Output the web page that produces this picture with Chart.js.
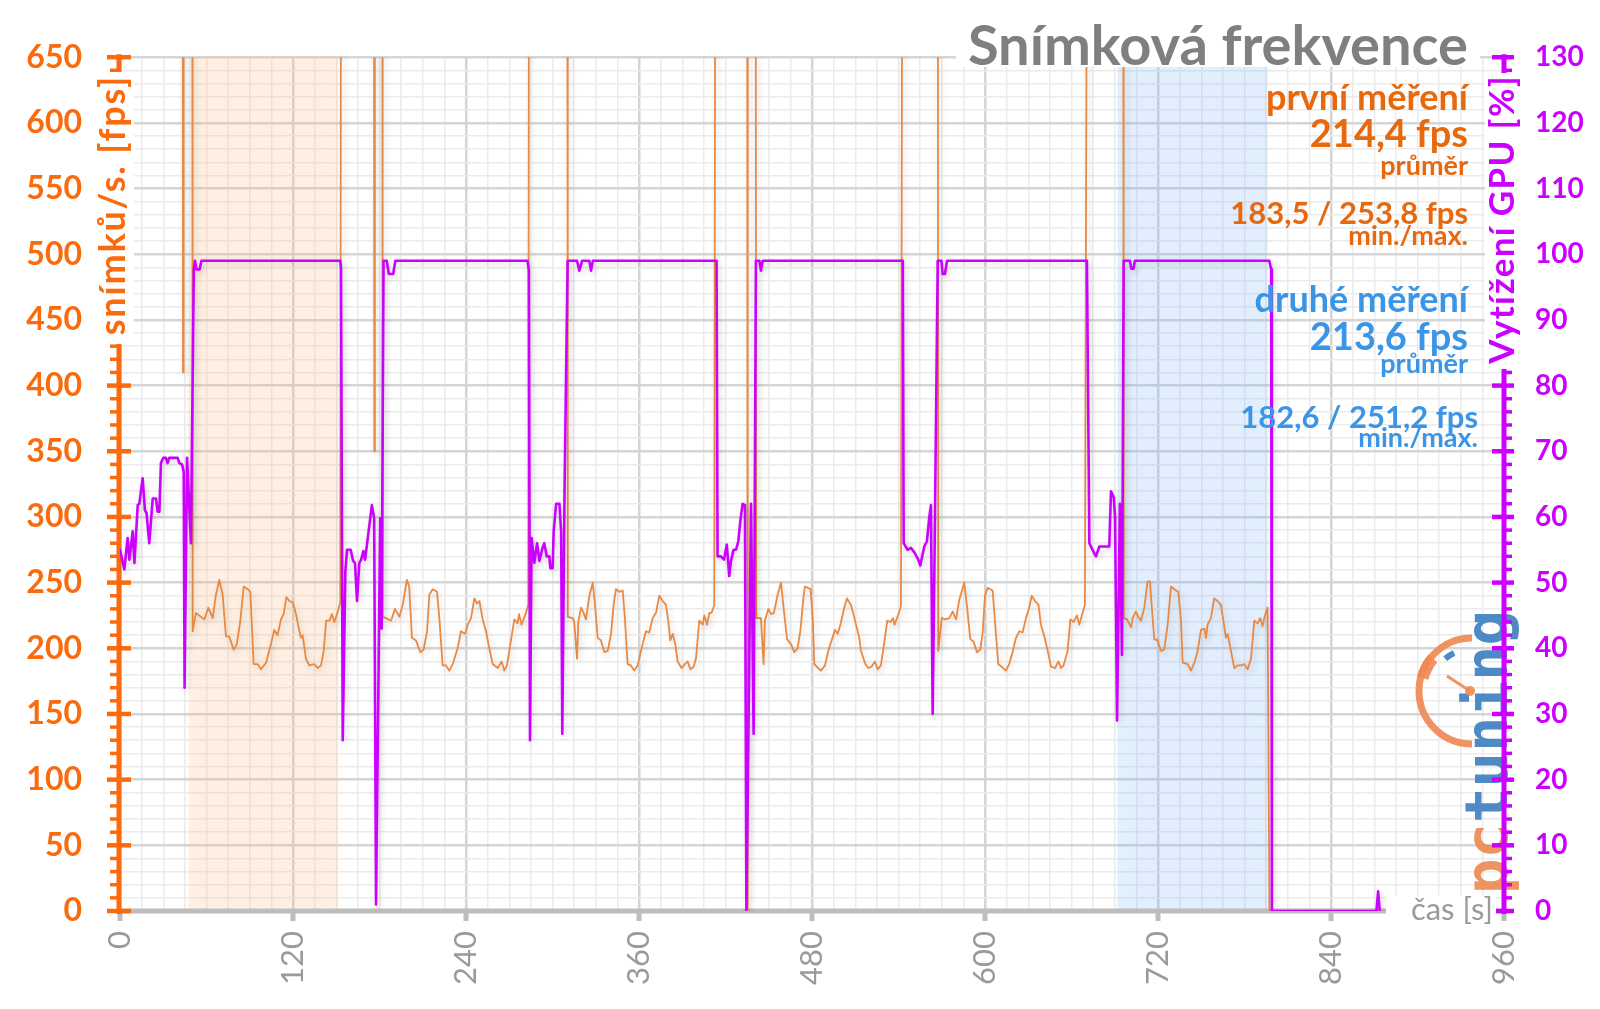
<!DOCTYPE html>
<html><head><meta charset="utf-8">
<script src="https://cdn.jsdelivr.net/npm/chart.js@4.4.1/dist/chart.umd.min.js"></script>
<style>html,body{margin:0;padding:0;background:#fff;overflow:hidden}#wrap{width:1600px;height:1009px}</style>
</head><body><div id="wrap"><canvas id="c" width="1600" height="1009"></canvas></div>
<script>
// ---------- DATA ----------
const timeTickStep = 120;            // labelled x ticks every 120 s
const fpsTickStep = 50;              // labelled left ticks
const gpuTickStep = 10;              // labelled right ticks
const timeRange = [0, 960];
const fpsRange = [0, 650];
const gpuRange = [0, 130];
// values above the visible range (menus / loading) are plotted as 999 and clipped
const fpsTime = [0,43.3,43.7,44.1,50.1,50.4,52.7,56,58.5,61.3,64.3,66.6,68.9,71.2,73.5,75.8,78.8,81,83.5,85.8,88.6,90.4,92.7,95.5,97.8,101.3,104.7,107,109.3,111.7,113.5,115.4,117.5,119.8,122.1,124.4,125.6,126.7,129,131.3,134.8,137.1,139.4,141.3,143,145.3,146.9,148.7,151.1,152.8,153.5,
176,176.4,176.8,181.8,182.2,184.5,188,190.7,193.8,196.1,199,200.6,202.5,205.3,208.3,210.6,213,214.6,216.9,219.9,221.5,223.8,226.1,228.4,230.8,234.2,236.5,239.3,241.6,243.5,245.8,247.6,249.3,251.6,253.9,255.6,258.5,262,264.7,266.6,268.4,271.2,273.5,275.8,276.8,278.5,281.6,283.2,283.9,
310.2,310.6,314,315.1,317,317.9,319.8,321.6,323.2,325.6,327.9,329.5,331.3,333.6,336,338.3,340.6,342.4,344,346.3,348.7,350.2,352.1,354.4,356.7,359.1,362.5,364.8,367.1,369.5,371.8,374.1,376.4,378.7,380.3,381.7,383.4,385.2,386.8,389.6,391.9,393.8,395.6,397.9,399.5,401.8,404.2,405.3,407.2,408.8,410.4,412.2,413.2,
435,435.3,435.6,440.8,441.3,444.6,446.4,447.3,449.7,451.6,453.6,456.2,458.5,460.3,462.7,465.5,467.7,470,471.9,474.3,475.1,479,480.6,481.6,484.3,486.2,489,491.3,493.6,496,497.8,499.7,502.4,504.3,507,508.8,510.5,512.8,514,517,519,521.3,523.6,525.5,527.8,530.6,532.2,534.5,536.1,537.3,539.6,541.7,543,
567.2,567.6,570,572.5,575.3,577.6,579.9,582.2,585.6,587.4,589.8,592.1,594.4,596.7,598.4,600,601.8,605.3,606.9,609.2,611.5,614.5,616.8,619.1,621.5,623.8,626.1,628.4,630.7,632.4,634.7,637.1,638.8,641.2,643.5,645.8,648.6,650.9,652.7,654.5,657.3,659.2,661.5,663.8,665.4,667.7,669.3,671.3,
695.8,696.2,698.5,701.3,702.4,704.7,706.3,708.2,710.5,712.8,714.4,715.6,717.4,719.7,722,724.3,726.7,729,732.5,734.1,735.9,737.1,740.6,742.9,745.2,747.5,749.8,752.1,753.3,754.4,756.7,759,761.3,763.6,765.5,767.1,768.3,770.6,772.9,775.2,777.5,779.8,782.2,784.5,786.8,789.1,790.9,792.5,794.2,796,797.3,875];
const fpsValues = [999,999,410,999,999,213,227,224,222,231,223,241,252,241,209,209,199,203,221,247,245,243,188,188,184,189,203,214,210,222,226,239,236,235,226,213,208,210,192,187,188,185,187,198,221,221,226,220,228,235,999,
999,350,999,999,224,223,221,230,224,233,252,247,208,206,197,199,213,241,245,243,223,187,187,183,188,200,213,211,219,223,238,234,236,222,213,203,188,185,190,183,187,206,222,219,226,218,227,233,999,
999,224,223,220,192,220,231,227,222,240,250,233,208,206,197,198,211,233,245,243,244,223,188,187,183,187,203,213,212,223,227,240,236,233,221,206,211,203,190,185,188,190,184,186,192,221,218,225,218,227,227,233,999,
999,0,999,999,223,223,188,221,230,226,227,241,250,231,207,203,197,200,213,241,247,245,221,188,185,183,187,198,206,214,211,218,231,238,233,226,218,208,198,188,185,186,190,184,187,208,221,220,223,218,225,232,999,
999,198,223,222,223,228,222,237,250,233,207,205,197,199,212,240,246,244,221,188,186,183,188,197,208,213,212,223,231,240,236,233,218,209,198,186,185,190,185,187,198,222,220,225,218,227,233,999,
999,223,222,216,223,228,224,221,231,251,251,233,207,206,198,199,218,247,244,243,222,189,188,183,189,198,214,215,208,218,223,238,236,233,220,208,211,198,185,187,187,188,184,192,221,219,223,217,225,231,0,0];
const gpuTime = [0,3,5.3,6.5,8.8,10,12.3,13.4,15.7,17.3,18.4,20.3,22.7,25,26.1,27.3,28.4,30,31.9,33,34.2,40,41.2,43,44.2,44.8,46.5,49.2,51.2,52,53,55.3,56.5,152.8,153.3,
154.5,156.3,157.5,160,161.7,163,164.4,166,167.3,168.8,170,172,174.7,176.3,177.6,180.5,181.5,182.8,185,186.5,189.5,191,282.7,283.6,
284.4,285.5,287.4,289.3,290.9,293.1,294.3,296,297.8,298.5,300.1,300.8,302.5,304.8,306,306.8,308.4,310.5,317,318.6,320.5,325.5,326.7,328,413.8,
414.5,416.7,419,420.9,422.6,423.8,425.6,427.3,428.9,430.3,431.9,433.5,434.5,437.7,439.5,441.1,443.5,444.6,445.8,543,
543.6,546.3,548.6,551,553.7,555.1,557.9,559.7,561.4,562.5,563.7,565.3,567.2,569.8,570.6,572.2,573.7,670.7,
672.4,674.6,677,679.3,686.2,687.4,689.3,690.2,691.6,693.6,695,696.2,700.5,701.5,703,704,797.2,798.5,799,871.5,872.7,873.8];
const gpuValues = [55,52,56.8,53.5,57.8,53,61.8,62,65.9,61,60.6,56,62.8,62.8,60.8,60.8,68.2,69,69,68.2,69,69,68.2,68,66.9,34,69,56,97.7,99,97.7,97.7,99,99,98,
26,51.7,55,55,53.3,53,47.2,53,53.5,54.8,53.5,57,61.8,59.8,1,59.8,43,99,99,97,97,99,99,97.5,
26,56.8,53,56,53.3,55.3,56,54,54,52.2,52.2,57.8,62,62,57.8,27,65,99,99,97.5,99,99,97.5,99,99,
54,54,53.5,55.8,51,53.3,55,55,56.3,59.4,62,61.8,0,62,27,99,99,97.5,99,99,
56,55,55.3,54.6,53.5,52.6,55.5,56.3,60,61.8,30,59.8,99,99,97,97,99,99,
56,55,54,55.5,55.5,63.9,63,60,29,62,39,99,99,97.8,97.8,99,99,97.7,0,0,3,0];
// highlighted measurement windows (seconds)
const shadeStart = [47.6, 692];
const shadeEnd = [151, 796];
const shadeColors = ['rgba(248,190,130,0.2)', 'rgba(120,180,245,0.19)'];
const titleText = 'Snímková frekvence';
const notes1 = ['první měření', '214,4 fps', 'průměr', '183,5 / 253,8 fps', 'min./max.'];
const notes2 = ['druhé měření', '213,6 fps', 'průměr', '182,6 / 251,2 fps', 'min./max.'];

// ---------- STYLE ----------
const ORANGE_AX = '#fb6a0c', ORANGE_LINE = '#ea8942', ORANGE_TXT = '#e8680e';
const MAGENTA = '#cc00ff', BLUE_TXT = '#3b95e6', GRAY = '#9a9a9a';

const fpsData = fpsTime.map((t, i) => ({x: t, y: fpsValues[i]}));
const gpuData = gpuTime.map((t, i) => ({x: t, y: gpuValues[i]}));

const decor = {
  id: 'decor',
  beforeDatasetsDraw(chart) {
    const {ctx, chartArea: a, scales} = chart;
    const x = scales.x, y = scales.y, y2 = scales.y2;
    ctx.save();
    // shaded windows (soft edges)
    for (let i = 0; i < shadeStart.length; i++) {
      const x0 = x.getPixelForValue(shadeStart[i]), x1 = x.getPixelForValue(shadeEnd[i]);
      ctx.save();
      ctx.shadowColor = shadeColors[i];
      ctx.shadowBlur = 8;
      ctx.fillStyle = shadeColors[i];
      ctx.fillRect(x0, a.top, x1 - x0, a.bottom - a.top);
      ctx.restore();
    }
    // logo
    ctx.globalAlpha = 0.92;
    ctx.save();
    ctx.translate(1507, 752);
    ctx.rotate(-Math.PI / 2);
    ctx.font = 'bold 59px "DejaVu Sans Mono"';
    ctx.textBaseline = 'alphabetic';
    ctx.textAlign = 'left';
    const full = ctx.measureText('pctuning').width;
    const pw = ctx.measureText('pc').width;
    ctx.fillStyle = '#ef8a55';
    ctx.fillText('pc', -full / 2, 0);
    ctx.fillStyle = '#3f80c0';
    ctx.fillText('tuning', -full / 2 + pw, 0);
    ctx.restore();
    ctx.strokeStyle = '#ef8a55';
    ctx.lineWidth = 7;
    ctx.beginPath(); ctx.arc(1472, 691, 53, -Math.PI / 2, Math.PI / 2, true); ctx.stroke();
    ctx.lineWidth = 12;
    ctx.beginPath(); ctx.arc(1472, 691, 51, Math.PI * 1.08, Math.PI * 1.22); ctx.stroke();
    ctx.strokeStyle = '#3f80c0'; ctx.lineWidth = 6;
    ctx.beginPath(); ctx.arc(1472, 691, 42, Math.PI * 1.28, Math.PI * 1.36); ctx.stroke();
    ctx.strokeStyle = '#ef8a55'; ctx.lineWidth = 3;
    ctx.beginPath(); ctx.moveTo(1470, 691); ctx.lineTo(1447, 676); ctx.stroke();
    ctx.fillStyle = '#ef8a55';
    ctx.beginPath(); ctx.arc(1470, 691, 5, 0, Math.PI * 2); ctx.fill();
    ctx.globalAlpha = 1;
    // x axis line + ticks
    ctx.strokeStyle = '#bdbdbd';
    ctx.lineWidth = 5;
    ctx.beginPath(); ctx.moveTo(a.left, a.bottom); ctx.lineTo(a.right, a.bottom); ctx.stroke();
    for (let v = timeRange[0]; v <= timeRange[1]; v += timeTickStep) {
      const px = x.getPixelForValue(v);
      ctx.beginPath(); ctx.moveTo(px, a.bottom); ctx.lineTo(px, a.bottom + 10); ctx.stroke();
    }
    // left axis
    ctx.strokeStyle = ORANGE_AX;
    ctx.lineWidth = 5;
    ctx.beginPath(); ctx.moveTo(a.left - 1, a.top - 3); ctx.lineTo(a.left - 1, a.bottom + 3); ctx.stroke();
    for (let v = fpsRange[0]; v <= fpsRange[1]; v += 10) {
      const py = y.getPixelForValue(v);
      ctx.beginPath();
      if (v % fpsTickStep === 0) { ctx.lineWidth = 4.5; ctx.moveTo(a.left - 13, py); ctx.lineTo(a.left + 11, py); }
      else { ctx.lineWidth = 3.5; ctx.moveTo(a.left - 10, py); ctx.lineTo(a.left - 1, py); }
      ctx.stroke();
    }
    // right axis
    ctx.strokeStyle = MAGENTA;
    ctx.lineWidth = 5;
    ctx.beginPath(); ctx.moveTo(a.right, a.top - 3); ctx.lineTo(a.right, a.bottom + 3); ctx.stroke();
    for (let v = gpuRange[0]; v <= gpuRange[1]; v += 2) {
      const py = y2.getPixelForValue(v);
      ctx.beginPath();
      if (v % gpuTickStep === 0) { ctx.lineWidth = 4.5; ctx.moveTo(a.right - 12, py); ctx.lineTo(a.right + 10, py); }
      else { ctx.lineWidth = 3.5; ctx.moveTo(a.right, py); ctx.lineTo(a.right + 8, py); }
      ctx.stroke();
    }
    ctx.restore();
  },
  beforeDatasetDraw(chart) {
    const ctx = chart.ctx;
    ctx.shadowColor = 'rgba(0,0,0,0.16)';
    ctx.shadowBlur = 6;
    ctx.shadowOffsetX = 2;
    ctx.shadowOffsetY = 3;
  },
  afterDatasetDraw(chart) {
    const ctx = chart.ctx;
    ctx.shadowColor = 'rgba(0,0,0,0)';
    ctx.shadowBlur = 0; ctx.shadowOffsetX = 0; ctx.shadowOffsetY = 0;
  },
  afterDraw(chart) {
    const {ctx} = chart;
    ctx.save();
    // title with white box
    ctx.fillStyle = '#fff';
    ctx.fillRect(956, 30, 524, 37);
    ctx.fillStyle = '#7f7f7f';
    ctx.font = 'bold 56px Lato';
    ctx.textAlign = 'right';
    ctx.textBaseline = 'alphabetic';
    ctx.fillText(titleText, 1468, 65);
    // notes
    const sizes = [36, 38, 27, 31, 27];
    const ys1 = [110, 147, 175, 224, 245];
    const ys2 = [312, 350, 373, 428, 447];
    const xs1 = [1468, 1468, 1468, 1468, 1468];
    const xs2 = [1468, 1468, 1468, 1478, 1478];
    for (let i = 0; i < 5; i++) {
      ctx.font = 'bold ' + sizes[i] + 'px Lato';
      ctx.fillStyle = ORANGE_TXT; ctx.fillText(notes1[i], xs1[i], ys1[i]);
      ctx.fillStyle = BLUE_TXT; ctx.fillText(notes2[i], xs2[i], ys2[i]);
    }
    // axis titles
    const vTitle = (text, cx, cy, color, size, spacing, box) => {
      ctx.save();
      ctx.fillStyle = '#fff';
      ctx.fillRect(box[0], box[1], box[2], box[3]);
      ctx.translate(cx, cy);
      ctx.rotate(-Math.PI / 2);
      ctx.font = 'bold ' + size + 'px Lato';
      if ('letterSpacing' in ctx) ctx.letterSpacing = spacing + 'px';
      ctx.textAlign = 'center';
      ctx.textBaseline = 'middle';
      ctx.fillStyle = color;
      ctx.fillText(text, spacing / 2, 0);
      ctx.restore();
    };
    vTitle('snímků/s. [fps]', 113, 206, ORANGE_AX, 36, 1.8, [94, 72, 40, 272]);
    vTitle('Vytížení GPU [%]', 1503, 220, MAGENTA, 35, 1.3, [1485, 73, 38, 296]);
    // x title
    ctx.fillStyle = '#fff';
    ctx.fillRect(1386, 896, 110, 30);
    ctx.font = '31px Lato';
    ctx.fillStyle = GRAY;
    ctx.textAlign = 'right';
    ctx.textBaseline = 'middle';
    ctx.fillText('čas [s]', 1493, 910);
    ctx.restore();
  }
};

function build() {
  new Chart(document.getElementById('c'), {
    type: 'line',
    data: {
      datasets: [
        {label: 'Vytížení GPU', data: gpuData, yAxisID: 'y2', borderColor: MAGENTA, borderWidth: 2.6, borderJoinStyle: 'round', borderCapStyle: 'round', pointRadius: 0, tension: 0, fill: false},
        {label: 'fps', data: fpsData, yAxisID: 'y', borderColor: ORANGE_LINE, borderWidth: 1.8, borderJoinStyle: 'round', pointRadius: 0, tension: 0, fill: false}
      ]
    },
    options: {
      responsive: false, animation: false, devicePixelRatio: 1,
      layout: {padding: {top: 54, left: 0, right: 0, bottom: 0}},
      plugins: {legend: {display: false}, tooltip: {enabled: false}, title: {display: false}},
      scales: {
        x: {
          type: 'linear', min: timeRange[0], max: timeRange[1], position: 'bottom',
          afterFit(s) { s.height = 98; },
          ticks: {stepSize: 15, maxTicksLimit: 200, autoSkip: false, minRotation: 90, maxRotation: 90, padding: 20,
            color: GRAY, font: {family: 'Lato', size: 31},
            callback: v => (v % timeTickStep === 0 ? String(v) : '')},
          grid: {drawTicks: false,
            color: c => (c.tick && c.tick.value % timeTickStep === 0 ? '#d5d5d5' : '#ebebeb'),
            lineWidth: c => (c.tick && c.tick.value % timeTickStep === 0 ? 2.5 : 1.5)},
          border: {display: false}
        },
        y: {
          type: 'linear', min: fpsRange[0], max: fpsRange[1], position: 'left',
          afterFit(s) { s.width = 120; },
          ticks: {stepSize: 10, maxTicksLimit: 200, autoSkip: false, padding: 38, color: ORANGE_AX,
            font: {family: 'Lato', size: 32, weight: 'bold'},
            callback: v => (v % fpsTickStep === 0 ? String(v) : '')},
          grid: {drawTicks: false,
            color: c => (c.tick && c.tick.value % fpsTickStep === 0 ? '#d5d5d5' : '#ebebeb'),
            lineWidth: c => (c.tick && c.tick.value % fpsTickStep === 0 ? 2.5 : 1.5)},
          border: {display: false}
        },
        y2: {
          type: 'linear', min: gpuRange[0], max: gpuRange[1], position: 'right',
          afterFit(s) { s.width = 96; },
          ticks: {stepSize: 2, maxTicksLimit: 200, autoSkip: false, padding: 31, color: MAGENTA,
            font: {family: 'Lato', size: 28, weight: 'bold'},
            callback: v => (v % gpuTickStep === 0 ? String(v) : '')},
          grid: {drawOnChartArea: false, drawTicks: false},
          border: {display: false}
        }
      }
    },
    plugins: [decor]
  });
}
Promise.all([
  document.fonts.load('bold 32px Lato'),
  document.fonts.load('31px Lato'),
  document.fonts.load('bold 59px "DejaVu Sans Mono"')
]).then(build, build);
</script>
</body></html>
